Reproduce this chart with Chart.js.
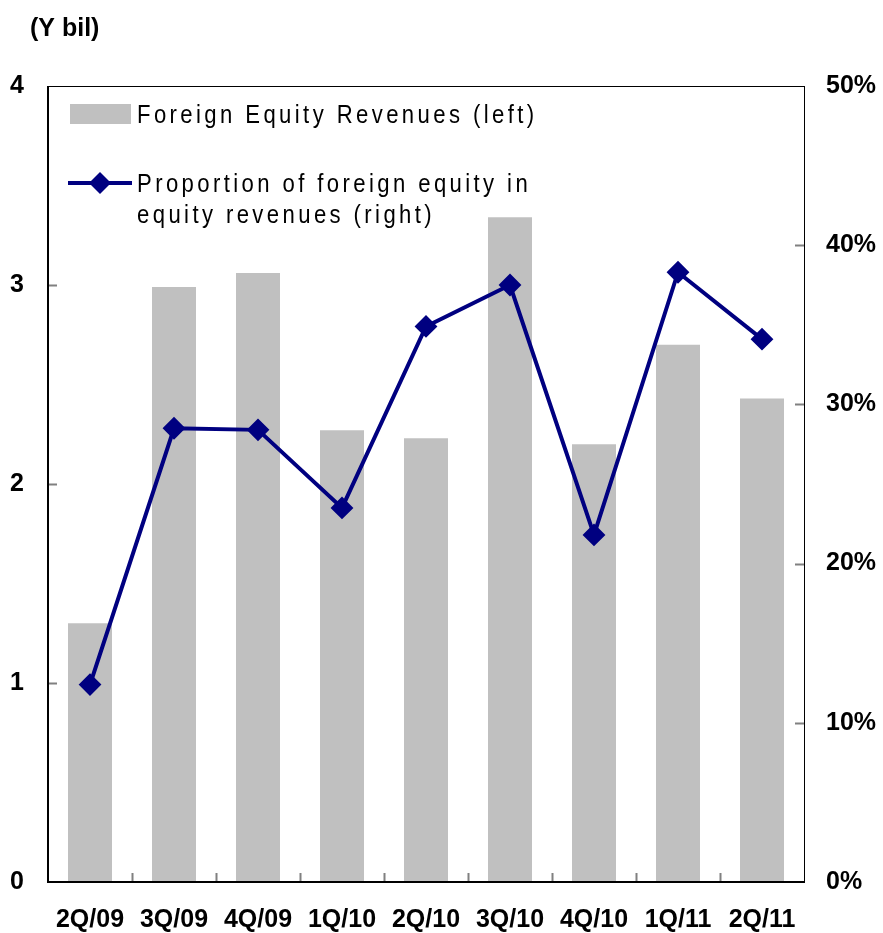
<!DOCTYPE html>
<html><head><meta charset="utf-8">
<script src="https://cdn.jsdelivr.net/npm/chart.js@4.4.0/dist/chart.umd.min.js"></script>
<style>html,body{margin:0;padding:0;background:#fff;overflow:hidden}#wrap{width:883px;height:933px;position:relative}</style>
</head><body><div id="wrap"><canvas id="c" width="883" height="933"></canvas></div>
<script>
const categories = ['2Q/09','3Q/09','4Q/09','1Q/10','2Q/10','3Q/10','4Q/10','1Q/11','2Q/11'];
const revenues = [1.30, 2.99, 3.06, 2.27, 2.23, 3.34, 2.20, 2.70, 2.43];
const proportion = [12.4, 28.5, 28.4, 23.5, 34.9, 37.5, 21.8, 38.3, 34.1];
const leftTicks = [0, 1, 2, 3, 4];
const rightTicks = [0, 10, 20, 30, 40, 50];
const legendBar = 'Foreign Equity Revenues (left)';
const legendLine = ['Proportion of foreign equity in', 'equity revenues (right)'];
const unitLabel = '(Y bil)';

const NAVY = '#000080';
const GRAY = '#c0c0c0';
const tickFont = {family: '"Liberation Sans Narrow", "Arial Narrow", "Liberation Sans", Arial, sans-serif', size: 25, weight: 'bold'};

const decor = {
  id: 'decor',
  afterDraw(chart) {
    const ctx = chart.ctx, ca = chart.chartArea;
    const x = chart.scales.x, y = chart.scales.y, y1 = chart.scales.y1;
    ctx.save();
    // inward tick marks
    ctx.strokeStyle = '#808080';
    ctx.lineWidth = 2;
    ctx.beginPath();
    leftTicks.slice(1, -1).forEach(v => {
      const py = Math.round(y.getPixelForValue(v)) + 0.5;
      ctx.moveTo(ca.left, py); ctx.lineTo(ca.left + 9, py);
    });
    rightTicks.slice(1, -1).forEach(v => {
      const py = Math.round(y1.getPixelForValue(v)) + 0.5;
      ctx.moveTo(ca.right - 9, py); ctx.lineTo(ca.right, py);
    });
    for (let i = 1; i < categories.length; i++) {
      const px = Math.round((x.getPixelForValue(i - 1) + x.getPixelForValue(i)) / 2) + 0.5;
      ctx.moveTo(px, ca.bottom); ctx.lineTo(px, ca.bottom - 9);
    }
    ctx.stroke();
    // frame
    ctx.strokeStyle = '#000';
    ctx.lineWidth = 1;
    ctx.strokeRect(ca.left + 0.5, ca.top + 0.5, ca.right - ca.left, ca.bottom - ca.top);
    ctx.lineWidth = 2;
    ctx.beginPath();
    ctx.moveTo(ca.left, ca.top); ctx.lineTo(ca.left, ca.bottom); ctx.lineTo(ca.right + 1, ca.bottom);
    ctx.stroke();

    // legend
    ctx.fillStyle = GRAY;
    ctx.fillRect(70, 104, 61, 20);
    ctx.strokeStyle = NAVY;
    ctx.lineWidth = 4;
    ctx.beginPath(); ctx.moveTo(68, 183); ctx.lineTo(132, 183); ctx.stroke();
    ctx.fillStyle = NAVY;
    ctx.beginPath();
    ctx.moveTo(100, 172); ctx.lineTo(111, 183); ctx.lineTo(100, 194); ctx.lineTo(89, 183); ctx.closePath();
    ctx.fill();

    ctx.fillStyle = '#000';
    ctx.font = '26px "Liberation Sans", Arial, sans-serif';
    ctx.textBaseline = 'alphabetic';
    ctx.textAlign = 'left';
    const drawT = (t, tx, ty) => {
      ctx.save(); ctx.translate(tx, ty); ctx.scale(0.85, 1);
      ctx.letterSpacing = '4px';
      ctx.fillText(t, 0, 0);
      ctx.restore();
    };
    drawT(legendBar, 137, 123);
    drawT(legendLine[0], 137, 192);
    drawT(legendLine[1], 137, 223);

    // unit label
    ctx.letterSpacing = '0px';
    ctx.font = 'bold 25px "Liberation Sans", Arial, sans-serif';
    ctx.fillText(unitLabel, 30, 36);
    ctx.restore();
  }
};

new Chart(document.getElementById('c'), {
  data: {
    labels: categories,
    datasets: [
      {
        type: 'line', label: legendLine.join(' '), data: proportion, yAxisID: 'y1', order: 0,
        borderColor: NAVY, borderWidth: 4, tension: 0,
        pointStyle: 'rectRot', pointRadius: 10, pointBorderWidth: 2,
        pointBackgroundColor: NAVY, pointBorderColor: NAVY, clip: false
      },
      {
        type: 'bar', label: legendBar, data: revenues, yAxisID: 'y', order: 1,
        backgroundColor: GRAY, barPercentage: 0.524, categoryPercentage: 1, borderWidth: 0
      }
    ]
  },
  options: {
    responsive: false, animation: false, maintainAspectRatio: false,
    layout: {padding: {top: 86, left: 0, right: 0, bottom: 0}},
    plugins: {legend: {display: false}, tooltip: {enabled: false}, title: {display: false}},
    scales: {
      x: {
        grid: {display: false, drawTicks: false}, border: {display: false},
        ticks: {font: tickFont, color: '#000', padding: 23, maxRotation: 0, autoSkip: false},
        afterFit(s) { s.height = 51; }
      },
      y: {
        position: 'left', min: 0, max: 4,
        grid: {display: false, drawTicks: false}, border: {display: false},
        afterBuildTicks(s) { s.ticks = leftTicks.map(v => ({value: v})); },
        ticks: {font: tickFont, color: '#000', padding: 24, callback: v => String(v)},
        afterFit(s) { s.width = 48; }
      },
      y1: {
        position: 'right', min: 0, max: 50,
        grid: {display: false, drawTicks: false}, border: {display: false},
        afterBuildTicks(s) { s.ticks = rightTicks.map(v => ({value: v})); },
        ticks: {font: tickFont, color: '#000', padding: 22, callback: v => v + '%'},
        afterFit(s) { s.width = 79; }
      }
    }
  },
  plugins: [decor]
});
</script></body></html>
